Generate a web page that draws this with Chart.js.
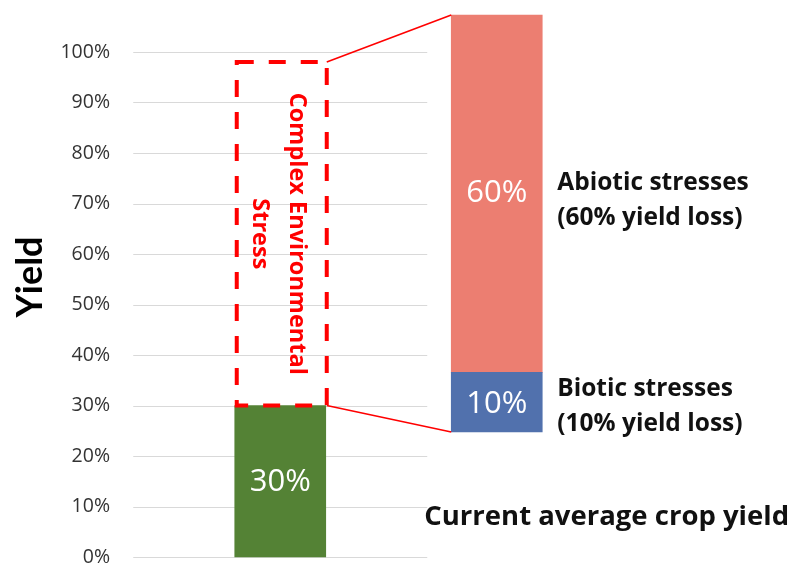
<!DOCTYPE html>
<html>
<head>
<meta charset="utf-8">
<script src="https://cdn.jsdelivr.net/npm/chart.js@4"></script>
<style>
  html, body { margin: 0; padding: 0; background: #ffffff; }
  canvas { display: block; }
</style>
</head>
<body>
<canvas id="yieldChart" width="800" height="565"></canvas>
<script>
// ---- data ----
const categories = ['Current average crop yield', 'Yield lost to stress'];
const currentYield = [30];                 // % of potential yield actually harvested
const stressLosses = [10, 60];             // biotic, abiotic (% yield loss)
const stressNames = ['Biotic stresses', 'Abiotic stresses'];
const yTickValues = [0, 10, 20, 30, 40, 50, 60, 70, 80, 90, 100];
const stressEnvelopeTop = [98];            // upper edge of the dashed "complex stress" envelope

// floating segments of the exploded loss bar, stacked on top of the current yield
const bioticRange = [currentYield[0], currentYield[0] + stressLosses[0]];
const abioticRange = [bioticRange[1], bioticRange[1] + stressLosses[1]];

const FONT = '"Open Sans", Lato, "DejaVu Sans", sans-serif';
const RED = '#ff0000';

const overlay = {
  id: 'overlay',
  beforeDatasetsDraw(chart) {
    const ctx = chart.ctx;
    const y = chart.scales.y;
    const green = chart.getDatasetMeta(0).data[0];
    const x0 = green.x - 147, x1 = green.x + 147;
    ctx.save();
    ctx.strokeStyle = '#d9d9d9';
    ctx.lineWidth = 1;
    yTickValues.forEach(v => {
      const py = Math.round(y.getPixelForValue(v)) + 0.5;
      ctx.beginPath();
      ctx.moveTo(x0, py);
      ctx.lineTo(x1, py);
      ctx.stroke();
    });
    ctx.restore();
  },
  afterDatasetsDraw(chart) {
    const ctx = chart.ctx;
    const y = chart.scales.y;
    const green = chart.getDatasetMeta(0).data[0];
    const biotic = chart.getDatasetMeta(1).data[1];
    const abiotic = chart.getDatasetMeta(2).data[1];

    const gw = green.width;
    const boxL = green.x - gw / 2 + 2;
    const boxR = green.x + gw / 2 + 1;
    const boxTop = y.getPixelForValue(stressEnvelopeTop[0]);
    const boxBot = y.getPixelForValue(currentYield[0]);
    const rightL = biotic.x - biotic.width / 2;
    const rightR = biotic.x + biotic.width / 2;

    ctx.save();
    // connector lines to the exploded bar
    ctx.strokeStyle = RED;
    ctx.lineWidth = 1.6;
    ctx.beginPath();
    ctx.moveTo(boxR, boxTop);
    ctx.lineTo(rightL, abiotic.y);
    ctx.moveTo(boxR, boxBot);
    ctx.lineTo(rightL, biotic.base);
    ctx.stroke();

    // dashed envelope
    ctx.lineWidth = 4;
    ctx.setLineDash([17, 15]);
    ctx.strokeRect(boxL, boxTop, boxR - boxL, boxBot - boxTop);
    ctx.setLineDash([]);

    // vertical caption inside the envelope (reads top to bottom)
    ctx.fillStyle = RED;
    ctx.font = 'bold 23.5px ' + FONT;
    ctx.textAlign = 'center';
    ctx.textBaseline = 'middle';
    const cy = y.getPixelForValue(64);
    [['Complex Environmental', 16], ['Stress', -21]].forEach(([t, dx]) => {
      ctx.save();
      ctx.translate(green.x + dx, cy);
      ctx.rotate(Math.PI / 2);
      ctx.fillText(t, 0, 0);
      ctx.restore();
    });

    // values inside bars
    ctx.fillStyle = '#ffffff';
    ctx.font = '31px ' + FONT;
    ctx.fillText(currentYield[0] + '%', green.x, (green.y + green.base) / 2 + 1);
    ctx.fillText(stressLosses[0] + '%', biotic.x, (biotic.y + biotic.base) / 2 + 2);
    ctx.fillText(stressLosses[1] + '%', abiotic.x, (abiotic.y + abiotic.base) / 2 - 1);

    // labels to the right of the exploded bar
    ctx.fillStyle = '#111111';
    ctx.font = 'bold 24.5px ' + FONT;
    ctx.textAlign = 'left';
    const lx = rightR + 15;
    const aMid = (abiotic.y + abiotic.base) / 2 + 6;
    ctx.fillText(stressNames[1], lx, aMid - 17);
    ctx.fillText('(' + stressLosses[1] + '% yield loss)', lx, aMid + 18);
    const bMid = (biotic.y + biotic.base) / 2 + 4;
    ctx.fillText(stressNames[0], lx, bMid - 17);
    ctx.fillText('(' + stressLosses[0] + '% yield loss)', lx, bMid + 18);

    // caption for the current yield
    ctx.font = 'bold 27.5px ' + FONT;
    ctx.fillText(categories[0], rightL - 27, y.getPixelForValue(7.8));

    // axis title
    ctx.fillStyle = '#000000';
    ctx.font = 'bold 36px Lato, ' + FONT;
    ctx.textAlign = 'center';
    ctx.translate(30, 277);
    ctx.rotate(-Math.PI / 2);
    ctx.fillText('Yield', 0, 0);
    ctx.restore();
  }
};

new Chart(document.getElementById('yieldChart'), {
  type: 'bar',
  data: {
    labels: categories,
    datasets: [
      { label: 'Current yield', data: [currentYield[0], null], backgroundColor: '#548235', yAxisID: 'y', clip: false },
      { label: stressNames[0], data: [null, bioticRange], backgroundColor: '#5171ad', yAxisID: 'y2', clip: false },
      { label: stressNames[1], data: [null, abioticRange], backgroundColor: '#ec7e71', yAxisID: 'y2', clip: false }
    ]
  },
  options: {
    responsive: false,
    animation: false,
    devicePixelRatio: 1,
    layout: { padding: { left: 0, right: 195, top: 52, bottom: 8 } },
    datasets: { bar: { grouped: false, barThickness: 91 } },
    plugins: { legend: { display: false }, tooltip: { enabled: false } },
    scales: {
      x: { type: 'category', display: false },
      y: {
        position: 'left',
        min: 0,
        max: 100,
        afterBuildTicks(scale) { scale.ticks = yTickValues.map(v => ({ value: v })); },
        ticks: {
          padding: 62,
          color: '#333333',
          font: { family: FONT, size: 19.5 },
          callback: v => v + '%'
        },
        grid: { display: false, drawTicks: false },
        border: { display: false },
        afterFit(scale) {
          scale.width = 172;
          scale.paddingTop = 0;
          scale.paddingBottom = 0;
        }
      },
      y2: { display: false, min: 9, max: 93.8 }
    }
  },
  plugins: [overlay]
});
</script>
</body>
</html>
